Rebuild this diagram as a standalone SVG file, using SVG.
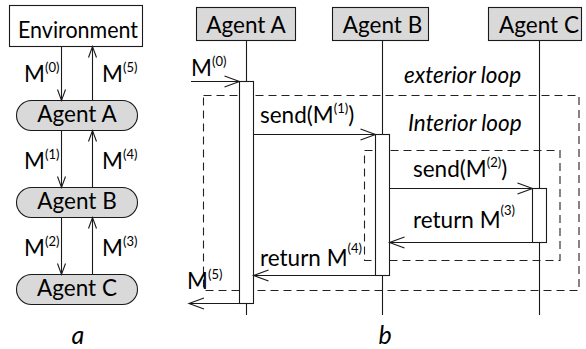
<svg xmlns="http://www.w3.org/2000/svg" width="586" height="349" viewBox="0 0 586 349">
<style>
text{font-family:Lato,"Open Sans","Liberation Sans",sans-serif;font-size:22.5px;fill:#000}
.c{text-anchor:middle}
.sup{font-size:13px}
.it{font-style:italic}
.box{fill:#d9d9d9;stroke:#1a1a1a;stroke-width:1.1}
.env{fill:#fff;stroke:#1a1a1a;stroke-width:1.1}
.ln{stroke:#1a1a1a;stroke-width:1.1;fill:none}
.act{fill:#fff;stroke:#1a1a1a;stroke-width:1.1}
.loop{fill:none;stroke:#222;stroke-width:1.1;stroke-dasharray:8 5}
.s{marker-end:url(#ah)}
.t{marker-end:url(#ahs)}
</style>
<defs>
<marker id="ah" markerUnits="userSpaceOnUse" markerWidth="18" markerHeight="14" refX="15" refY="6" orient="auto" overflow="visible">
<path d="M0,0.5 L15,6 L0,11.5" fill="none" stroke="#1a1a1a" stroke-width="1.1"/>
</marker>
<marker id="ahs" markerUnits="userSpaceOnUse" markerWidth="14" markerHeight="10" refX="11" refY="4.5" orient="auto" overflow="visible">
<path d="M0,0.5 L11,4.5 L0,8.5" fill="none" stroke="#1a1a1a" stroke-width="1.1"/>
</marker>
</defs>

<!-- Panel a -->
<g id="a-environment">
<rect class="env" x="9.5" y="5.5" width="133" height="41"/>
<text x="18" y="38" textLength="120" lengthAdjust="spacingAndGlyphs">Environment</text>
</g>
<g id="a-agentA">
<rect class="box" x="16.5" y="100.5" width="121" height="30" rx="15"/>
<text class="c" x="77" y="122">Agent A</text>
</g>
<g id="a-agentB">
<rect class="box" x="16.5" y="187.5" width="121" height="30" rx="15"/>
<text class="c" x="77" y="209">Agent B</text>
</g>
<g id="a-agentC">
<rect class="box" x="16.5" y="274.5" width="121" height="30" rx="15"/>
<text class="c" x="77" y="296">Agent C</text>
</g>
<g id="a-connectors">
<line class="ln t" x1="61.5" y1="46.5" x2="61.5" y2="100.5"/>
<line class="ln t" x1="92.5" y1="100.5" x2="92.5" y2="46.5"/>
<line class="ln t" x1="61.5" y1="130.5" x2="61.5" y2="187.5"/>
<line class="ln t" x1="92.5" y1="187.5" x2="92.5" y2="130.5"/>
<line class="ln t" x1="61.5" y1="217.5" x2="61.5" y2="274.5"/>
<line class="ln t" x1="92.5" y1="274.5" x2="92.5" y2="217.5"/>
<text x="24" y="82">M<tspan class="sup" dy="-10">(0)</tspan></text>
<text x="102" y="82">M<tspan class="sup" dy="-10">(5)</tspan></text>
<text x="24" y="169">M<tspan class="sup" dy="-10">(1)</tspan></text>
<text x="102" y="169">M<tspan class="sup" dy="-10">(4)</tspan></text>
<text x="24" y="256">M<tspan class="sup" dy="-10">(2)</tspan></text>
<text x="102" y="256">M<tspan class="sup" dy="-10">(3)</tspan></text>
</g>
<text class="c it" x="78" y="344" style="font-size:25px">a</text>

<!-- Panel b -->
<g id="b-loops">
<rect class="loop" x="203.5" y="95.5" width="375.5" height="195"/>
<rect class="loop" x="364.5" y="150.5" width="195.5" height="110"/>
<text class="it" x="404" y="83">exterior loop</text>
<text class="it" x="408" y="131">Interior loop</text>
</g>
<g id="b-agentA">
<rect class="box" x="196.5" y="7.5" width="99" height="33"/>
<text class="c" x="246" y="32.5">Agent A</text>
<line class="ln" x1="246.5" y1="40.5" x2="246.5" y2="315"/>
<rect class="act" x="239.5" y="81.5" width="14" height="222"/>
</g>
<g id="b-agentB">
<rect class="box" x="332.5" y="7.5" width="96" height="33"/>
<text class="c" x="382.5" y="32.5">Agent B</text>
<line class="ln" x1="382.5" y1="40.5" x2="382.5" y2="315"/>
<rect class="act" x="375.5" y="134.5" width="14" height="141"/>
</g>
<g id="b-agentC">
<rect class="box" x="488.5" y="7.5" width="93" height="33"/>
<text class="c" x="539" y="32.5">Agent C</text>
<line class="ln" x1="539.5" y1="40.5" x2="539.5" y2="315"/>
<rect class="act" x="532.5" y="188.5" width="14" height="54"/>
</g>
<g id="b-connectors">
<line class="ln s" x1="191" y1="81.5" x2="239.5" y2="81.5"/>
<line class="ln s" x1="253.5" y1="134.5" x2="375.5" y2="134.5"/>
<line class="ln s" x1="389.5" y1="188.5" x2="532.5" y2="188.5"/>
<line class="ln s" x1="532.5" y1="242.5" x2="389.5" y2="242.5"/>
<line class="ln s" x1="375.5" y1="275.5" x2="253.5" y2="275.5"/>
<line class="ln s" x1="239.5" y1="303.5" x2="189" y2="303.5"/>
<text x="191" y="76">M<tspan class="sup" dy="-10">(0)</tspan></text>
<text x="260" y="123">send(M<tspan class="sup" dy="-10">(1)</tspan><tspan dy="10">)</tspan></text>
<text x="413" y="177">send(M<tspan class="sup" dy="-10">(2)</tspan><tspan dy="10">)</tspan></text>
<text x="413" y="228">return M<tspan class="sup" dy="-13">(3)</tspan></text>
<text x="260" y="266">return M<tspan class="sup" dy="-13">(4)</tspan></text>
<text x="187" y="289">M<tspan class="sup" dy="-10">(5)</tspan></text>
</g>
<text class="c it" x="385" y="344" style="font-size:25px">b</text>
</svg>
